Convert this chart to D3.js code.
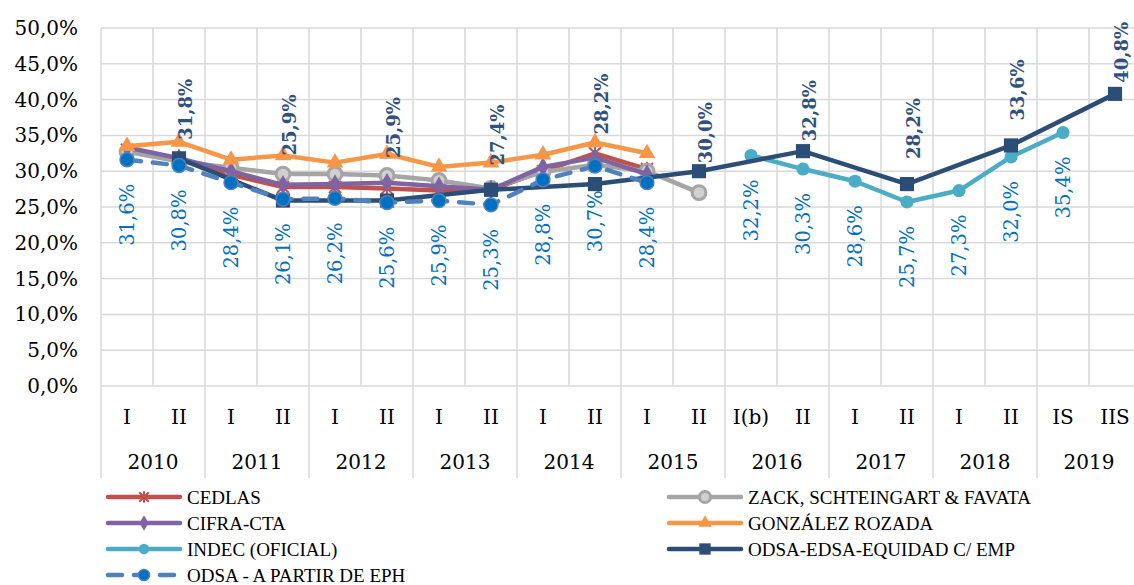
<!DOCTYPE html>
<html>
<head>
<meta charset="utf-8">
<script src="https://cdn.jsdelivr.net/npm/d3@7"></script>
<style>
  body { margin: 0; background: #fff; }
  svg { display: block; }
  .num { font-family: "DejaVu Serif", serif; }
  .leg { font-family: "Liberation Serif", "Times New Roman", serif; font-size: 19px; fill: #000; }
</style>
</head>
<body>
<svg id="chart" width="1134" height="585"></svg>
<script>
// categories
const periods = ["I", "II", "I", "II", "I", "II", "I", "II", "I", "II",
                 "I", "II", "I(b)", "II", "I", "II", "I", "II", "IS", "IIS"];
const years = ["2010", "2011", "2012", "2013", "2014", "2015", "2016", "2017", "2018", "2019"];

// series values (%), null = no data
const cedlas   = [33.0, 31.6, 29.5, 27.8, 27.8, 27.6, 27.3, 27.4, 30.0, 32.5, 30.3, null,
                  null, null, null, null, null, null, null, null];
const zack     = [32.7, 31.4, 30.5, 29.6, 29.6, 29.4, 28.7, 27.6, 29.9, 30.9, 30.0, 27.0,
                  null, null, null, null, null, null, null, null];
const cifra    = [33.3, 31.8, 30.0, 28.1, 28.2, 28.4, 27.9, 27.4, 30.6, 31.9, 29.6, null,
                  null, null, null, null, null, null, null, null];
const gonzalez = [33.5, 34.1, 31.6, 32.2, 31.2, 32.4, 30.6, 31.2, 32.3, 34.0, 32.5, null,
                  null, null, null, null, null, null, null, null];
const indec    = [null, null, null, null, null, null, null, null, null, null, null, null,
                  32.2, 30.3, 28.6, 25.7, 27.3, 32.0, 35.4, null];
const odsaEdsa = [null, 31.8, null, 25.9, null, 25.9, null, 27.4, null, 28.2, null, 30.0,
                  null, 32.8, null, 28.2, null, 33.6, null, 40.8];
const odsaEph  = [31.6, 30.8, 28.4, 26.1, 26.2, 25.6, 25.9, 25.3, 28.8, 30.7, 28.4, null,
                  null, null, null, null, null, null, null, null];
const yTicks = [0, 5, 10, 15, 20, 25, 30, 35, 40, 45, 50];

const series = [
  { name: "CEDLAS", values: cedlas, color: "#C0504D", marker: "star" },
  { name: "ZACK, SCHTEINGART & FAVATA", values: zack, color: "#A5A5A5", marker: "ring" },
  { name: "CIFRA-CTA", values: cifra, color: "#8064A2", marker: "diamond" },
  { name: "GONZÁLEZ ROZADA", values: gonzalez, color: "#F79646", marker: "triangle" },
  { name: "INDEC (OFICIAL)", values: indec, color: "#4BACC6", marker: "circle", labels: "below" },
  { name: "ODSA-EDSA-EQUIDAD C/ EMP", values: odsaEdsa, color: "#2C4D75", marker: "square", labels: "above" },
  { name: "ODSA - A PARTIR DE EPH", values: odsaEph, color: "#4F81BD", marker: "dot", dashed: true, labels: "below" }
];

const svg = d3.select("#chart");
const plotLeft = 101, plotRight = 1141, plotTop = 28, plotBottom = 386;

const x = d3.scaleBand().domain(d3.range(periods.length)).range([plotLeft, plotRight]);
const cx = i => x(i) + x.bandwidth() / 2;
const y = d3.scaleLinear().domain([0, 50]).range([plotBottom, plotTop]);
const fmt = v => v.toFixed(1).replace(".", ",") + "%";

// grid
const grid = svg.append("g");
grid.selectAll("line.h").data(yTicks).join("line").attr("class", "h")
  .attr("x1", plotLeft).attr("x2", plotRight)
  .attr("y1", d => y(d)).attr("y2", d => y(d))
  .attr("stroke", "#D9D9D9").attr("stroke-width", 1.5);
grid.selectAll("line.v").data(d3.range(periods.length + 1)).join("line").attr("class", "v")
  .attr("x1", d => plotLeft + d * x.bandwidth()).attr("x2", d => plotLeft + d * x.bandwidth())
  .attr("y1", plotTop).attr("y2", plotBottom)
  .attr("stroke", "#D9D9D9").attr("stroke-width", 1.5);

// y axis labels
const yAxis = svg.append("g").attr("transform", "translate(" + (plotLeft - 23) + ",0)")
  .call(d3.axisLeft(y).tickValues(yTicks).tickFormat(fmt).tickSize(0).tickPadding(0));
yAxis.select(".domain").remove();
yAxis.selectAll("text").attr("class", "num").attr("font-size", 20).attr("fill", "#000");

// category axis: periods + years
const yearBand = d3.scaleBand().domain(years).range([plotLeft, plotRight]);
const catAxis = svg.append("g").attr("transform", "translate(0," + plotBottom + ")")
  .call(d3.axisBottom(x).tickFormat(i => periods[i]).tickSize(0).tickPadding(0));
catAxis.select(".domain").remove();
catAxis.selectAll("text").attr("class", "num").attr("font-size", 20).attr("fill", "#000")
  .attr("dy", null).attr("y", 31).attr("dominant-baseline", "central");
svg.append("g").selectAll("line").data(d3.range(years.length + 1)).join("line")
  .attr("x1", d => plotLeft + d * yearBand.bandwidth()).attr("x2", d => plotLeft + d * yearBand.bandwidth())
  .attr("y1", plotBottom).attr("y2", 478)
  .attr("stroke", "#D9D9D9").attr("stroke-width", 1.5);
svg.append("g").selectAll("text").data(years).join("text")
  .attr("class", "num").attr("font-size", 20)
  .attr("x", d => yearBand(d) + yearBand.bandwidth() / 2).attr("y", 462)
  .attr("text-anchor", "middle").attr("dominant-baseline", "central").text(d => d);

// markers
function drawMarker(g, s, px, py, scale) {
  const k = scale || 1;
  if (s.marker === "star") {
    const r = 6 * k;
    g.append("path")
      .attr("d", `M${px - r},${py - r}L${px + r},${py + r}M${px - r},${py + r}L${px + r},${py - r}M${px},${py - r - 1}L${px},${py + r + 1}`)
      .attr("stroke", s.color).attr("stroke-width", 2).attr("fill", "none");
    return;
  }
  const sym = {
    ring: [d3.symbolCircle, 150], diamond: [d3.symbolDiamond, 110],
    triangle: [d3.symbolTriangle, 120], circle: [d3.symbolCircle, 135],
    square: [d3.symbolSquare, 200], dot: [d3.symbolCircle, 150]
  }[s.marker];
  const p = g.append("path")
    .attr("d", d3.symbol(sym[0], sym[1] * k * k)())
    .attr("transform", `translate(${px},${py})`);
  if (s.marker === "ring") p.attr("fill", "#D0D0D0").attr("stroke", s.color).attr("stroke-width", 3);
  else if (s.marker === "dot") p.attr("fill", "#0070C0").attr("stroke", "#4F81BD").attr("stroke-width", 1.5);
  else p.attr("fill", s.color);
}

const line = d3.line().x(d => cx(d.i)).y(d => y(d.v));
const plot = svg.append("g");
series.forEach(s => {
  const pts = s.values.map((v, i) => ({ i, v })).filter(d => d.v !== null);
  plot.append("path").datum(pts)
    .attr("d", line)
    .attr("fill", "none")
    .attr("stroke", s.color)
    .attr("stroke-width", 4.5)
    .attr("stroke-linejoin", "round")
    .attr("stroke-linecap", "round")
    .attr("stroke-dasharray", s.dashed ? "14,12" : null);
  const mg = plot.append("g");
  pts.forEach(d => drawMarker(mg, s, cx(d.i), y(d.v)));
});

// data labels
// blue labels below their points
series.filter(s => s.labels === "below").forEach(s => {
  s.values.forEach((v, i) => {
    if (v === null) return;
    svg.append("text")
      .attr("class", "num").attr("font-size", 19.5).attr("fill", "#0070C0")
      .attr("transform", `translate(${cx(i)},${y(v) + 24}) rotate(-90)`)
      .attr("text-anchor", "end").attr("dominant-baseline", "central")
      .text(fmt(v));
  });
});
// dark labels above, lifted over the other lines
const darkNudge = { 1: 2, 3: 0, 5: -4, 7: -3, 9: 8, 11: 8, 13: 10, 15: 25, 17: 25, 19: 11 };
series.filter(s => s.labels === "above").forEach(s => {
  s.values.forEach((v, i) => {
    if (v === null) return;
    const others = series.filter(o => o !== s && o.labels === undefined)
      .map(o => o.values[i]).filter(o => o !== null);
    const topV = Math.max(v, ...others);
    svg.append("text")
      .attr("class", "num").attr("font-size", 18).attr("font-weight", "bold").attr("fill", "#2F5180")
      .attr("transform", `translate(${cx(i) + 6},${y(topV) - (darkNudge[i] || 0)}) rotate(-90)`)
      .attr("text-anchor", "start").attr("dominant-baseline", "central")
      .text(fmt(v));
  });
});

// legend
const legendRows = [
  { s: series[0], x: 108, y: 497 }, { s: series[1], x: 669, y: 497 },
  { s: series[2], x: 108, y: 523 }, { s: series[3], x: 669, y: 523 },
  { s: series[4], x: 108, y: 549 }, { s: series[5], x: 669, y: 549 },
  { s: series[6], x: 108, y: 575 }
];
const lg = svg.append("g");
legendRows.forEach(r => {
  lg.append("line")
    .attr("x1", r.x).attr("x2", r.x + 72).attr("y1", r.y).attr("y2", r.y)
    .attr("stroke", r.s.color).attr("stroke-width", 4.5).attr("stroke-linecap", "round")
    .attr("stroke-dasharray", r.s.dashed ? "14,12" : null);
  drawMarker(lg, r.s, r.x + 36, r.y, 0.8);
  lg.append("text").attr("class", "leg")
    .attr("x", r.x + 79).attr("y", r.y).attr("dominant-baseline", "central")
    .text(r.s.name);
});
</script>
</body>
</html>
